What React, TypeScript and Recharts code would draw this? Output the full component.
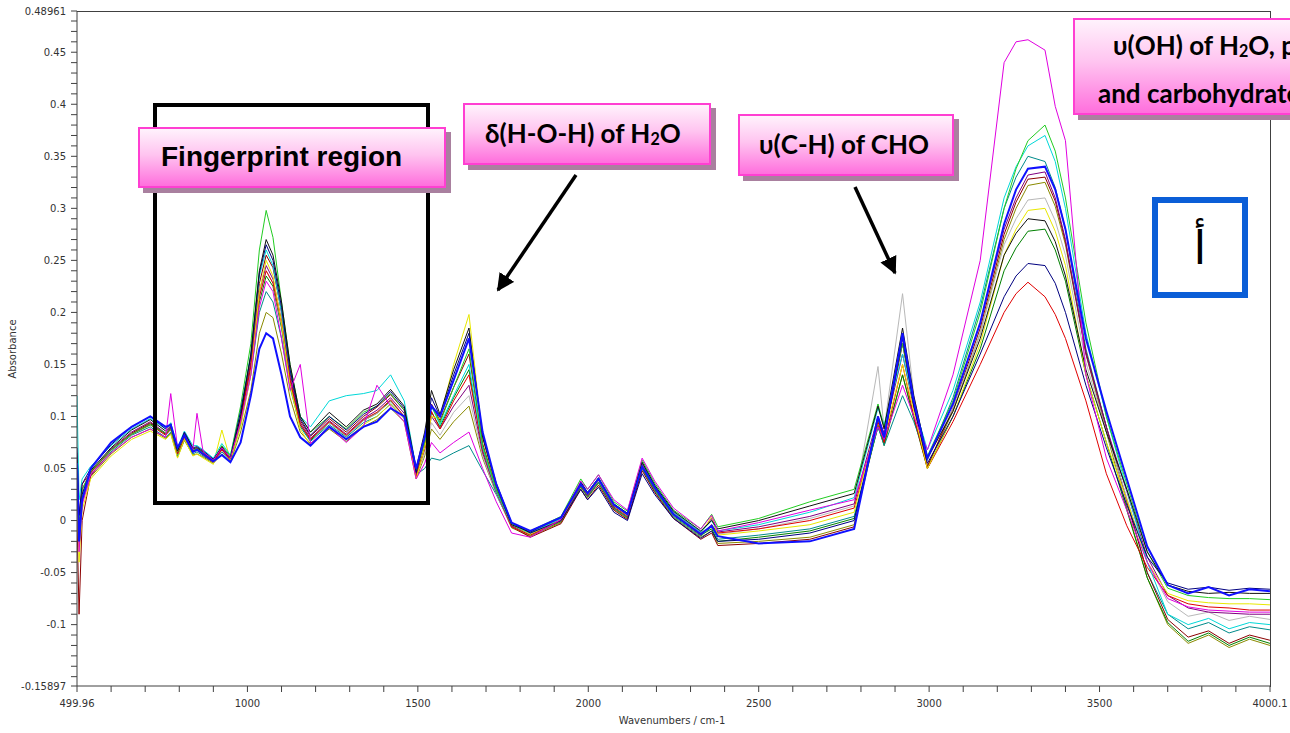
import React from 'react'
import { LineChart, Line, XAxis, YAxis } from 'recharts'

// wavenumber grid (cm-1) shared by every spectrum
const wavenumbers = [
  500, 506, 515, 540, 600, 660, 715, 760, 775, 795, 815, 840, 852, 870, 900, 925, 950,
  980, 1010, 1035, 1055, 1075, 1100, 1125, 1155, 1185,
  1240, 1290, 1340, 1380, 1420, 1460, 1495, 1520, 1540, 1565,
  1605, 1650, 1690, 1730,
  1775, 1830, 1920, 1978, 1998, 2030, 2075, 2115, 2158, 2195, 2250, 2330, 2362, 2380,
  2500, 2650, 2780,
  2850, 2868, 2922, 2955, 2995,
  3070, 3150, 3220, 3255, 3290, 3340, 3370, 3400, 3460, 3520, 3580, 3640,
  3700, 3760, 3820, 3880, 3940, 4000,
]

const blue = [
  0.055, -0.02, 0.02, 0.05, 0.075, 0.09, 0.1, 0.09, 0.092, 0.07, 0.082, 0.066, 0.068, 0.064, 0.057, 0.063, 0.056,
  0.075, 0.12, 0.165, 0.18, 0.175, 0.14, 0.1, 0.08, 0.072,
  0.09, 0.078, 0.09, 0.095, 0.108, 0.1, 0.05, 0.08, 0.11, 0.1,
  0.135, 0.175, 0.085, 0.035,
  -0.002, -0.01, 0.003, 0.035, 0.026, 0.04, 0.015, 0.006, 0.052, 0.032, 0.006, -0.013, -0.005, -0.015,
  -0.022, -0.02, -0.008,
  0.1, 0.08, 0.18, 0.115, 0.06,
  0.112, 0.19, 0.285, 0.318, 0.338, 0.34, 0.318, 0.28, 0.175, 0.105, 0.04, -0.025,
  -0.062, -0.07, -0.064, -0.072, -0.066, -0.068,
]
const red = [
  0.065, 0.0, 0.035, 0.046, 0.068, 0.083, 0.092, 0.082, 0.088, 0.064, 0.08, 0.066, 0.068, 0.063, 0.056, 0.068, 0.058,
  0.098, 0.148, 0.215, 0.24, 0.228, 0.19, 0.135, 0.092, 0.078,
  0.095, 0.082, 0.097, 0.104, 0.116, 0.1, 0.042, 0.07, 0.105, 0.088,
  0.115, 0.14, 0.068, 0.028,
  -0.006, -0.014, 0.0, 0.034, 0.024, 0.039, 0.013, 0.004, 0.054, 0.031, 0.006, -0.014, -0.004, -0.012,
  -0.008, 0.0, 0.012,
  0.095, 0.075, 0.15, 0.1, 0.05,
  0.095, 0.15, 0.2, 0.218, 0.229, 0.215, 0.198, 0.175, 0.115, 0.045, -0.005, -0.045,
  -0.072, -0.08, -0.083, -0.084, -0.086, -0.086,
]
const magenta = [
  0.055, -0.03, 0.015, 0.044, 0.065, 0.08, 0.088, 0.08, 0.122, 0.07, 0.082, 0.068, 0.103, 0.066, 0.058, 0.07, 0.06,
  0.095, 0.14, 0.205, 0.23, 0.22, 0.175, 0.125, 0.15, 0.074,
  0.09, 0.075, 0.09, 0.13, 0.11, 0.095, 0.04, 0.055, 0.075, 0.065,
  0.075, 0.085, 0.05, 0.018,
  -0.012, -0.016, 0.001, 0.038, 0.03, 0.044, 0.02, 0.01, 0.06, 0.038, 0.012, -0.008, 0.005, -0.01,
  -0.002, 0.01, 0.02,
  0.09, 0.078, 0.13, 0.1, 0.068,
  0.14, 0.25, 0.44, 0.46, 0.462, 0.452, 0.398, 0.365, 0.14, 0.06, 0.01, -0.04,
  -0.075, -0.083, -0.086, -0.087, -0.088, -0.088,
]
const green = [
  0.05, 0.0, 0.03, 0.047, 0.068, 0.083, 0.092, 0.084, 0.088, 0.066, 0.082, 0.068, 0.069, 0.065, 0.058, 0.072, 0.062,
  0.11, 0.17, 0.26, 0.298, 0.272, 0.21, 0.15, 0.1, 0.085,
  0.1, 0.088, 0.104, 0.11, 0.122, 0.106, 0.048, 0.075, 0.11, 0.094,
  0.128, 0.165, 0.072, 0.03,
  -0.003, -0.01, 0.004, 0.04, 0.03, 0.044, 0.018, 0.009, 0.058, 0.036, 0.01, -0.008, 0.006, -0.006,
  0.002, 0.018, 0.03,
  0.112, 0.09, 0.17, 0.115, 0.062,
  0.115, 0.2, 0.3, 0.338, 0.365, 0.38, 0.355, 0.31, 0.19, 0.1, 0.035, -0.03,
  -0.065, -0.072, -0.074, -0.075, -0.075, -0.076,
]
const cyan = [
  0.12, 0.02, 0.04, 0.052, 0.072, 0.088, 0.098, 0.088, 0.094, 0.07, 0.086, 0.072, 0.072, 0.068, 0.06, 0.074, 0.063,
  0.105, 0.16, 0.235, 0.26, 0.245, 0.2, 0.145, 0.1, 0.09,
  0.115, 0.12, 0.122, 0.125, 0.14, 0.115, 0.05, 0.078, 0.11, 0.092,
  0.12, 0.15, 0.07, 0.028,
  -0.004, -0.012, 0.002, 0.037, 0.027, 0.041, 0.016, 0.007, 0.056, 0.034, 0.008, -0.011, 0.0, -0.01,
  -0.004, 0.008, 0.022,
  0.108, 0.092, 0.16, 0.112, 0.068,
  0.125, 0.21, 0.31, 0.34, 0.36, 0.37, 0.345, 0.3, 0.18, 0.1, 0.03, -0.04,
  -0.09, -0.1, -0.094, -0.104, -0.098, -0.1,
]
const yellow = [
  0.04, -0.04, 0.01, 0.04, 0.062, 0.078, 0.086, 0.078, 0.083, 0.06, 0.078, 0.062, 0.064, 0.06, 0.054, 0.087, 0.058,
  0.09, 0.14, 0.22, 0.25, 0.235, 0.19, 0.13, 0.088, 0.072,
  0.09, 0.078, 0.092, 0.1, 0.112, 0.098, 0.04, 0.07, 0.1, 0.098,
  0.15, 0.198, 0.08, 0.032,
  -0.004, -0.013, 0.001, 0.035, 0.025, 0.039, 0.014, 0.005, 0.053, 0.032, 0.007, -0.013, 0.004, -0.014,
  -0.01, -0.004, 0.008,
  0.098, 0.08, 0.15, 0.105, 0.05,
  0.1, 0.17, 0.255, 0.28, 0.298, 0.3, 0.278, 0.245, 0.14, 0.075, 0.02, -0.04,
  -0.07, -0.077, -0.079, -0.08, -0.08, -0.081,
]
const navy = [
  0.07, 0.005, 0.035, 0.05, 0.073, 0.09, 0.1, 0.088, 0.093, 0.068, 0.085, 0.07, 0.071, 0.067, 0.059, 0.07, 0.06,
  0.105, 0.158, 0.238, 0.265, 0.25, 0.205, 0.145, 0.098, 0.082,
  0.1, 0.087, 0.102, 0.11, 0.124, 0.108, 0.046, 0.08, 0.118, 0.1,
  0.14, 0.18, 0.082, 0.036,
  -0.002, -0.012, 0.0, 0.03, 0.02, 0.032, 0.008, 0.0, 0.045, 0.025, 0.002, -0.017, -0.01, -0.02,
  -0.018, -0.012, 0.0,
  0.098, 0.078, 0.175, 0.11, 0.055,
  0.1, 0.16, 0.215, 0.235, 0.247, 0.245, 0.228, 0.2, 0.13, 0.07, 0.015, -0.035,
  -0.06, -0.066, -0.064, -0.067, -0.065, -0.066,
]
const black = [
  0.058, -0.015, 0.025, 0.048, 0.07, 0.087, 0.097, 0.086, 0.091, 0.067, 0.084, 0.069, 0.07, 0.066, 0.058, 0.071, 0.06,
  0.1, 0.16, 0.24, 0.27, 0.255, 0.21, 0.15, 0.1, 0.085,
  0.104, 0.09, 0.106, 0.112, 0.126, 0.11, 0.05, 0.085, 0.125, 0.102,
  0.145, 0.185, 0.08, 0.033,
  -0.004, -0.011, 0.003, 0.037, 0.027, 0.041, 0.016, 0.007, 0.056, 0.034, 0.009, -0.01, 0.0, -0.008,
  0.0, 0.014, 0.026,
  0.11, 0.088, 0.185, 0.12, 0.06,
  0.105, 0.175, 0.255, 0.276, 0.29, 0.288, 0.268, 0.235, 0.145, 0.085, 0.03, -0.03,
  -0.062, -0.068, -0.07, -0.069, -0.07, -0.07,
]
const teal = [
  0.05, -0.02, 0.02, 0.044, 0.066, 0.082, 0.09, 0.08, 0.085, 0.062, 0.078, 0.064, 0.066, 0.062, 0.056, 0.066, 0.057,
  0.092, 0.14, 0.2, 0.22, 0.21, 0.175, 0.128, 0.09, 0.076,
  0.092, 0.08, 0.094, 0.1, 0.112, 0.098, 0.044, 0.05, 0.06, 0.058,
  0.065, 0.072, 0.048, 0.025,
  -0.005, -0.013, 0.0, 0.033, 0.023, 0.037, 0.012, 0.003, 0.05, 0.029, 0.004, -0.015, -0.006, -0.018,
  -0.014, -0.008, 0.004,
  0.09, 0.072, 0.12, 0.095, 0.058,
  0.118, 0.205, 0.3, 0.33, 0.35, 0.345, 0.32, 0.28, 0.165, 0.09, 0.02, -0.05,
  -0.09, -0.104, -0.098, -0.108, -0.102, -0.105,
]
const olive = [
  0.045, -0.025, 0.018, 0.042, 0.064, 0.08, 0.088, 0.079, 0.084, 0.061, 0.077, 0.063, 0.064, 0.061, 0.055, 0.064, 0.056,
  0.085, 0.125, 0.18, 0.2, 0.195, 0.16, 0.118, 0.085, 0.074,
  0.088, 0.076, 0.09, 0.097, 0.108, 0.095, 0.04, 0.062, 0.088, 0.078,
  0.095, 0.11, 0.06, 0.026,
  -0.007, -0.015, -0.002, 0.032, 0.022, 0.036, 0.011, 0.002, 0.05, 0.028, 0.003, -0.016, -0.01, -0.022,
  -0.02, -0.016, -0.004,
  0.092, 0.072, 0.14, 0.1, 0.052,
  0.105, 0.18, 0.27, 0.3, 0.322, 0.325, 0.302, 0.265, 0.16, 0.085, 0.012, -0.055,
  -0.1, -0.118, -0.11, -0.122, -0.114, -0.12,
]
const purple = [
  0.062, -0.005, 0.03, 0.046, 0.069, 0.085, 0.095, 0.084, 0.09, 0.065, 0.082, 0.067, 0.069, 0.065, 0.057, 0.069, 0.059,
  0.098, 0.15, 0.22, 0.245, 0.232, 0.192, 0.138, 0.094, 0.079,
  0.096, 0.083, 0.098, 0.106, 0.118, 0.103, 0.044, 0.068, 0.1, 0.088,
  0.11, 0.13, 0.065, 0.027,
  -0.005, -0.012, 0.001, 0.036, 0.026, 0.04, 0.015, 0.006, 0.055, 0.033, 0.008, -0.011, 0.002, -0.011,
  -0.006, 0.004, 0.016,
  0.1, 0.084, 0.16, 0.108, 0.06,
  0.112, 0.19, 0.28, 0.31, 0.332, 0.335, 0.31, 0.27, 0.16, 0.09, 0.028, -0.035,
  -0.072, -0.084, -0.088, -0.089, -0.09, -0.09,
]
const grey = [
  0.055, -0.01, 0.028, 0.045, 0.067, 0.083, 0.092, 0.082, 0.087, 0.064, 0.08, 0.066, 0.067, 0.064, 0.057, 0.068, 0.058,
  0.096, 0.146, 0.215, 0.24, 0.228, 0.188, 0.135, 0.093, 0.078,
  0.094, 0.081, 0.096, 0.103, 0.114, 0.1, 0.043, 0.064, 0.094, 0.082,
  0.104, 0.12, 0.062, 0.026,
  -0.006, -0.014, 0.0, 0.035, 0.025, 0.039, 0.014, 0.005, 0.054, 0.032, 0.007, -0.012, 0.001, -0.013,
  -0.008, 0.002, 0.014,
  0.148, 0.088, 0.218, 0.12, 0.058,
  0.108, 0.18, 0.265, 0.29, 0.308, 0.31, 0.288, 0.255, 0.152, 0.085, 0.022, -0.04,
  -0.078, -0.092, -0.088, -0.096, -0.092, -0.095,
]
const darkRed = [
  0.0, -0.09, 0.0, 0.043, 0.068, 0.084, 0.094, 0.083, 0.089, 0.065, 0.081, 0.067, 0.068, 0.064, 0.057, 0.069, 0.059,
  0.1, 0.152, 0.228, 0.255, 0.243, 0.2, 0.142, 0.096, 0.081,
  0.098, 0.085, 0.1, 0.109, 0.121, 0.106, 0.046, 0.076, 0.112, 0.096,
  0.128, 0.16, 0.074, 0.03,
  -0.006, -0.016, -0.003, 0.03, 0.02, 0.034, 0.01, 0.001, 0.048, 0.027, 0.002, -0.018, -0.012, -0.024,
  -0.022, -0.018, -0.006,
  0.1, 0.08, 0.17, 0.11, 0.052,
  0.108, 0.185, 0.275, 0.306, 0.328, 0.33, 0.307, 0.268, 0.162, 0.09, 0.018, -0.05,
  -0.095, -0.112, -0.106, -0.118, -0.11, -0.115,
]
const darkGreen = [
  0.052, -0.012, 0.026, 0.045, 0.067, 0.083, 0.093, 0.083, 0.088, 0.065, 0.081, 0.066, 0.068, 0.064, 0.057, 0.069, 0.058,
  0.095, 0.144, 0.21, 0.235, 0.225, 0.185, 0.132, 0.092, 0.077,
  0.094, 0.081, 0.096, 0.103, 0.115, 0.1, 0.043, 0.07, 0.104, 0.09,
  0.118, 0.145, 0.068, 0.028,
  -0.006, -0.014, -0.001, 0.033, 0.023, 0.037, 0.012, 0.003, 0.051, 0.03, 0.005, -0.014, -0.008, -0.02,
  -0.016, -0.01, 0.002,
  0.09, 0.074, 0.14, 0.098, 0.05,
  0.1, 0.165, 0.24, 0.262, 0.278, 0.28, 0.26, 0.23, 0.14, 0.075, 0.01, -0.055,
  -0.098, -0.116, -0.108, -0.12, -0.112, -0.118,
]

const spectra = [
  { key: 'olive', color: '#8a8a00', values: olive },
  { key: 'darkGreen', color: '#008000', values: darkGreen },
  { key: 'teal', color: '#008b8b', values: teal },
  { key: 'darkRed', color: '#8b0000', values: darkRed },
  { key: 'grey', color: '#b8b8b8', values: grey },
  { key: 'purple', color: '#800080', values: purple },
  { key: 'red', color: '#e00000', values: red },
  { key: 'yellow', color: '#e8e800', values: yellow },
  { key: 'cyan', color: '#00d8d8', values: cyan },
  { key: 'green', color: '#22cc22', values: green },
  { key: 'navy', color: '#000080', values: navy },
  { key: 'black', color: '#111111', values: black },
  { key: 'magenta', color: '#e000e0', values: magenta },
  { key: 'blue', color: '#1010ff', values: blue, width: 2 },
]

const xMin = 499.96
const xMax = 4000.1
const yMin = -0.15897
const yMax = 0.48961
const xLabels = [499.96, 1000, 1500, 2000, 2500, 3000, 3500, 4000.1]
const yLabels = [-0.15897, -0.1, -0.05, 0, 0.05, 0.1, 0.15, 0.2, 0.25, 0.3, 0.35, 0.4, 0.45, 0.48961]

const xTicks: number[] = [xMin]
for (let v = 600; v <= 3900; v += 100) xTicks.push(v)
xTicks.push(xMax)
const yTicks: number[] = [yMin]
for (let i = -15; i <= 48; i++) yTicks.push(i / 100)
yTicks.push(yMax)

const rows = wavenumbers.map((w, i) => {
  const row: Record<string, number> = { w }
  spectra.forEach(s => { row[s.key] = s.values[i] })
  return row
})

const axisColor = '#404040'
const tickFont = { fontFamily: 'DejaVu Sans', fontSize: 10, fill: '#333' }

const findLabel = (list: number[], v: number) => list.find(l => Math.abs(l - v) < 1e-6)

const XTick = ({ x, y, payload }: any) => {
  const l = findLabel(xLabels, payload.value)
  if (l === undefined) return <g />
  return <text x={x} y={y} dy="0.71em" textAnchor="middle" {...tickFont}>{String(l)}</text>
}

const YTick = ({ x, y, payload }: any) => {
  const l = findLabel(yLabels, payload.value)
  if (l === undefined) return <g />
  return <text x={x} y={y} dy="0.355em" textAnchor="end" {...tickFont}>{String(l)}</text>
}

const pinkBox: React.CSSProperties = {
  position: 'absolute',
  boxSizing: 'border-box',
  background: 'linear-gradient(to bottom, #fff2fc 0%, #ffc4f0 45%, #ff6fdd 100%)',
  border: '2px solid #ff3fd2',
  boxShadow: '5px 5px 0 #a9809f',
  color: '#000',
  fontWeight: 700,
  whiteSpace: 'nowrap',
}
const calibriLike = "Lato, 'Open Sans', 'DejaVu Sans', sans-serif"
const sub = { fontSize: '0.62em', verticalAlign: '-0.15em' }

export default function App() {
  return (
    <div style={{ position: 'absolute', left: 0, top: 0, width: 1290, height: 733, overflow: 'hidden', background: '#fff' }}>
      <LineChart width={1290} height={733} data={rows} margin={{ top: 11, right: 20, bottom: 17, left: 0 }}>
        <XAxis
          dataKey="w"
          type="number"
          domain={[xMin, xMax]}
          ticks={xTicks}
          interval={0}
          tick={<XTick />}
          tickSize={6}
          tickMargin={8}
          height={30}
          stroke={axisColor}
          allowDataOverflow
        />
        <YAxis
          type="number"
          domain={[yMin, yMax]}
          ticks={yTicks}
          interval={0}
          tick={<YTick />}
          tickSize={6}
          tickMargin={5}
          width={77}
          stroke={axisColor}
          allowDataOverflow
        />
        {spectra.map(s => (
          <Line
            key={s.key}
            dataKey={s.key}
            type="linear"
            stroke={s.color}
            strokeWidth={s.width ?? 1}
            dot={false}
            isAnimationActive={false}
          />
        ))}
      </LineChart>

      {/* plot frame, top and right */}
      <div style={{ position: 'absolute', left: 77, top: 11, width: 1194, height: 676, boxSizing: 'border-box', borderTop: `1px solid ${axisColor}`, borderRight: `1px solid ${axisColor}`, pointerEvents: 'none' }} />

      <div style={{ position: 'absolute', left: 0, top: 349, width: 26, transform: 'translate(0,-50%)', display: 'flex', justifyContent: 'center' }}>
        <div style={{ transform: 'rotate(-90deg)', fontFamily: 'DejaVu Sans', fontSize: 10, color: '#333', whiteSpace: 'nowrap' }}>Absorbance</div>
      </div>
      <div style={{ position: 'absolute', left: 572, top: 715, width: 200, textAlign: 'center', fontFamily: 'DejaVu Sans', fontSize: 10, color: '#333' }}>
        Wavenumbers / cm-1
      </div>

      {/* fingerprint frame */}
      <div style={{ position: 'absolute', left: 153, top: 103, width: 277, height: 402, boxSizing: 'border-box', border: '4px solid #000' }} />

      <svg width={1290} height={733} style={{ position: 'absolute', left: 0, top: 0, pointerEvents: 'none' }}>
        <defs>
          <marker id="head" viewBox="0 0 10 10" refX="9" refY="5" markerWidth="5" markerHeight="5" orient="auto">
            <path d="M0,0 L10,5 L0,10 z" fill="#000" />
          </marker>
        </defs>
        <line x1={576} y1={175} x2={498} y2={290} stroke="#000" strokeWidth={3.5} markerEnd="url(#head)" />
        <line x1={855} y1={187} x2={895} y2={273} stroke="#000" strokeWidth={3.5} markerEnd="url(#head)" />
      </svg>

      <div style={{ ...pinkBox, left: 138, top: 127, width: 308, height: 61, fontFamily: "'Liberation Sans', Arial, sans-serif", fontSize: 28, paddingLeft: 21, paddingTop: 12 }}>
        Fingerprint region
      </div>
      <div style={{ ...pinkBox, left: 463, top: 103, width: 248, height: 62, fontFamily: calibriLike, fontSize: 26, paddingLeft: 20, paddingTop: 12 }}>
        δ(H-O-H) of H<span style={sub}>2</span>O
      </div>
      <div style={{ ...pinkBox, left: 738, top: 114, width: 216, height: 62, fontFamily: calibriLike, fontSize: 26, paddingLeft: 19, paddingTop: 12 }}>
        υ(C-H) of CHO
      </div>
      <div style={{ ...pinkBox, left: 1073, top: 18, width: 330, height: 97, fontFamily: calibriLike, fontSize: 26, lineHeight: '43px', paddingTop: 4 }}>
        <div style={{ paddingLeft: 38 }}>υ(OH) of H<span style={sub}>2</span>O, proteins</div>
        <div style={{ paddingLeft: 23 }}>and carbohydrates</div>
      </div>

      <div style={{ position: 'absolute', left: 1152, top: 197, width: 96, height: 101, boxSizing: 'border-box', border: '6px solid #0b5ed7', display: 'flex', alignItems: 'center', justifyContent: 'center', fontFamily: "'DejaVu Sans', serif", fontSize: 46, color: '#000' }}>
        أ
      </div>
    </div>
  )
}
